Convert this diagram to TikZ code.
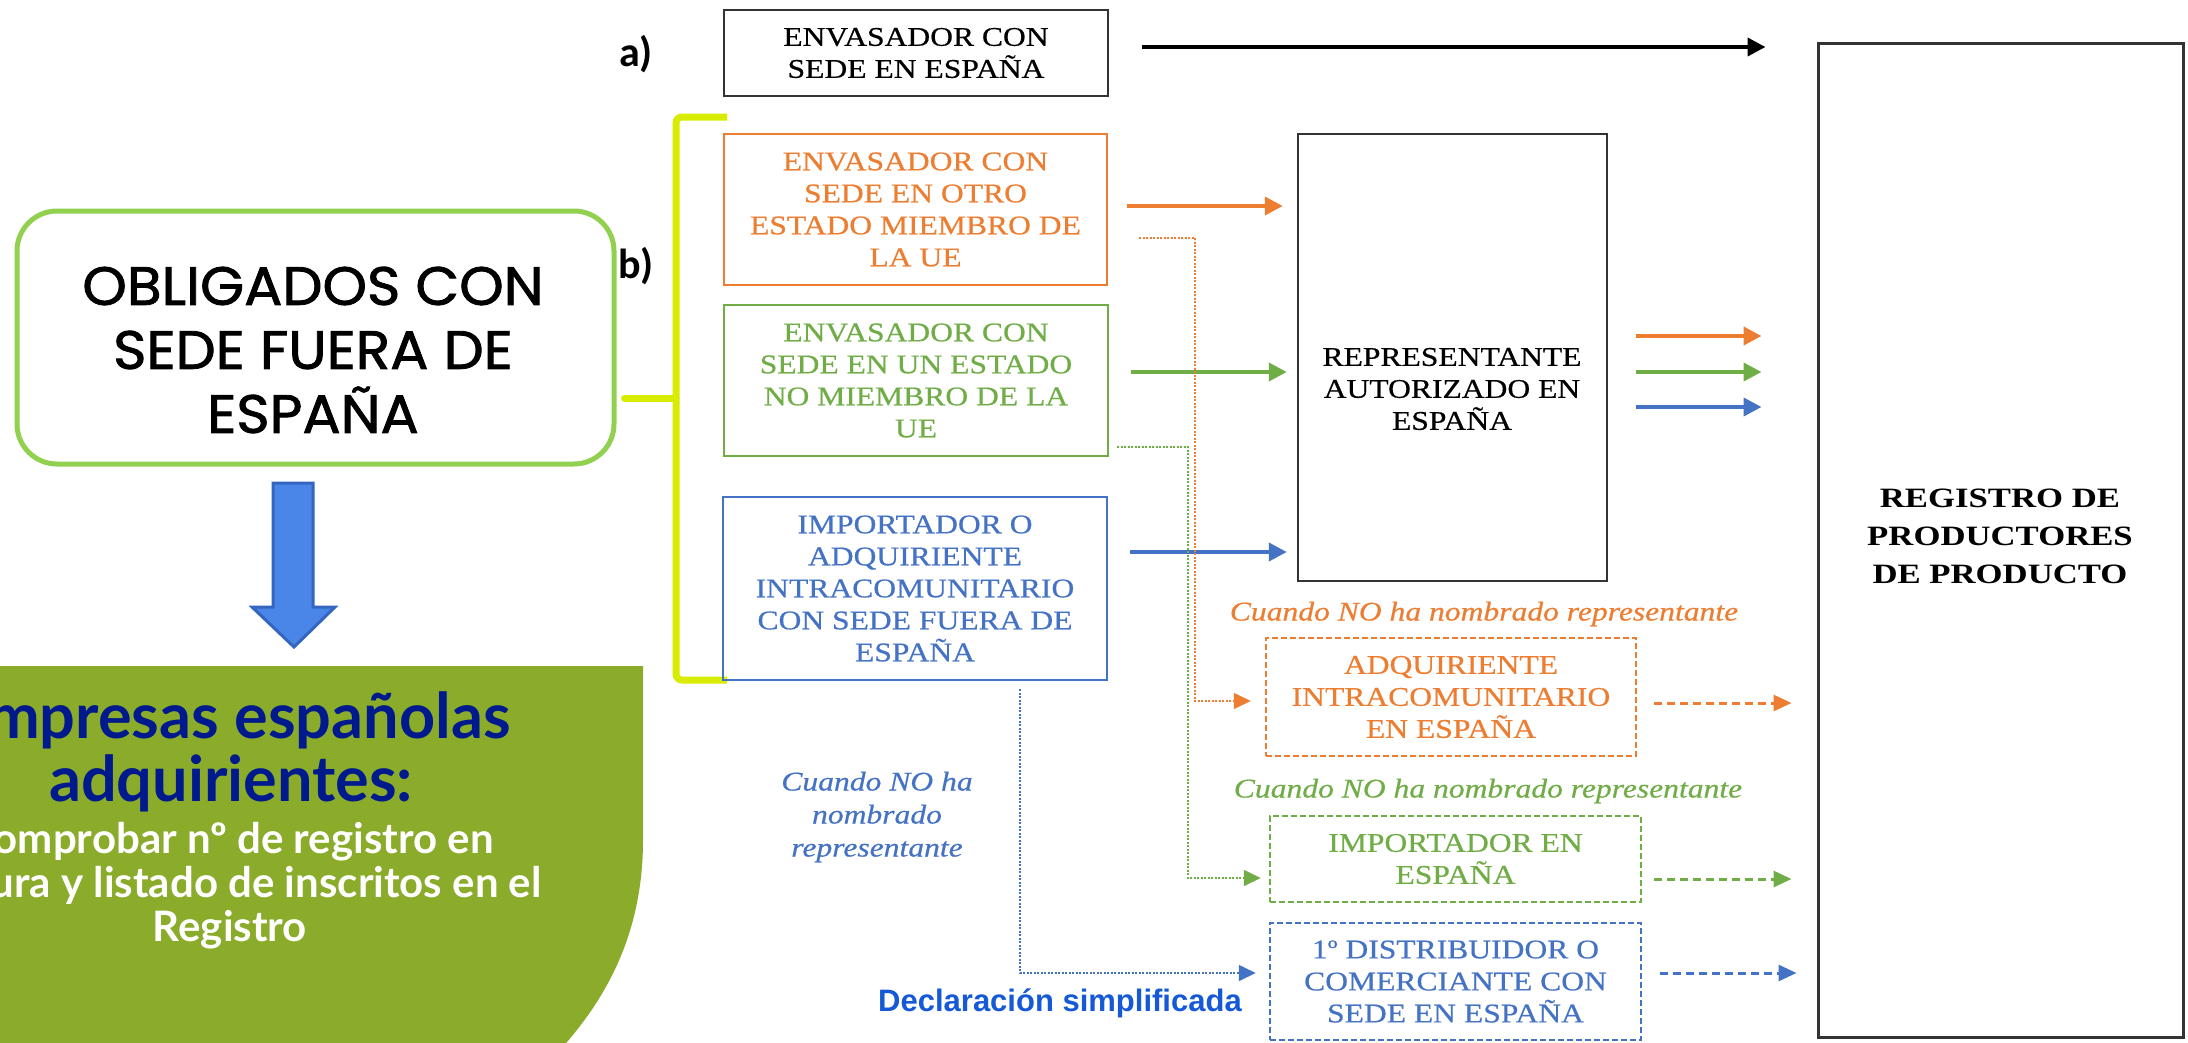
\documentclass[tikz,border=0pt]{standalone}
\usepackage{fontspec}
\usetikzlibrary{arrows.meta}
\newfontfamily\tnr{Liberation Serif}[FakeStretch=1.17,FakeBold=0.5]
\newfontfamily\tnrw{Liberation Serif}[FakeStretch=1.24]
\newfontfamily\popf{Poppins}[FakeStretch=1.05,FakeBold=1.5]
\newfontfamily\latof{Lato}
\newfontfamily\carlf{Carlito}
\newfontfamily\arialf{Liberation Sans}
\definecolor{cor}{HTML}{ED7D31}
\definecolor{cgr}{HTML}{70AD47}
\definecolor{cbl}{HTML}{4472C4}
\definecolor{cyel}{HTML}{D8EC00}
\definecolor{clg}{HTML}{92D050}
\definecolor{cpanel}{HTML}{8BAB2A}
\definecolor{cdkb}{HTML}{001A8E}
\definecolor{cbigar}{HTML}{4A86E8}
\definecolor{cbigard}{HTML}{3566BF}
\definecolor{cdecl}{HTML}{1559D6}
\tikzset{
  box/.style={draw, line width=2pt, inner sep=0pt, align=center, font=\tnr\fontsize{27}{32}\selectfont},
  dbox/.style={box, line width=2.5pt, dash pattern=on 6pt off 3pt},
  txt/.style={inner sep=0pt, align=center, font=\tnr\fontsize{27}{32}\selectfont},
  sarr/.style={line width=4pt, -{Triangle[length=18pt,width=18pt]}},
  darr/.style={line width=3pt, dash pattern=on 8pt off 5pt, -{Triangle[length=18pt,width=16pt]}},
  dotarr/.style={line width=1.6pt, dash pattern=on 2pt off 1.5pt, -{Triangle[length=17pt,width=16pt]}},
  itl/.style={inner sep=0pt, align=center, font=\tnr\itshape\fontsize{27}{33}\selectfont},
  lab/.style={inner sep=0pt, font=\carlf\bfseries\fontsize{42}{46}\selectfont}
}
\begin{document}
\begin{tikzpicture}[x=1pt,y=-1pt]
\useasboundingbox (0,0) rectangle (2188,1042);
\fill[white] (0,0) rectangle (2188,1042);

% green panel
\begin{scope}
\clip (0,0) rectangle (2188,1042);
\fill[cpanel] (-20,666) -- (643,666) -- (643,840) .. controls (643,935) and (605,1000) .. (560,1050) -- (-20,1050) -- cycle;
\node[inner sep=0pt, align=center, text=cdkb, font=\latof\bfseries\fontsize{63}{63}\selectfont] (emp) at (231,752) {Empresas españolas\\adquirientes:};
\node[inner sep=0pt, align=center, text=white, font=\latof\bfseries\fontsize{42}{44}\selectfont] (comp) at (230,886) {Comprobar nº de registro en\\factura y listado de inscritos en el\\Registro};
\end{scope}

% rounded box
\node[draw=clg, line width=5pt, rounded corners=40pt, minimum width=597pt, minimum height=253pt] (obl) at (315.5,337.5) {};
\node[inner sep=0pt, align=center, font=\popf\fontsize{54}{64}\selectfont] (oblt) at (313,350) {OBLIGADOS CON\\SEDE FUERA DE\\ESPAÑA};

% big arrow
\draw[cbigard, fill=cbigar, line width=3pt] (273,483) -- (313,483) -- (313,607) -- (335,607) -- (294,647) -- (252,607) -- (273,607) -- cycle;

% bracket
\draw[cyel, line width=7pt, rounded corners=6pt] (727,117) -- (676,117) -- (676,680) -- (727,680);
\draw[cyel, line width=7pt, line cap=round] ([xshift=8pt,yshift=-60.5pt]obl.east) -- (676,398);

% labels
\node[lab] (la) at (636,54) {a)};
\node[lab] (lb) at (636,266) {b)};

% boxes
\node[box, draw=black!80, line width=2.5pt, minimum width=384pt, minimum height=86pt] (bA) at (916,53) {ENVASADOR CON\\SEDE EN ESPAÑA};
\node[box, draw=cor, text=cor, minimum width=383pt, minimum height=151pt] (oB) at (915.5,209.5) {ENVASADOR CON\\SEDE EN OTRO\\ESTADO MIEMBRO DE\\LA UE};
\node[box, draw=cgr, text=cgr, minimum width=384pt, minimum height=151pt] (gB) at (916,380.5) {ENVASADOR CON\\SEDE EN UN ESTADO\\NO MIEMBRO DE LA\\UE};
\node[box, draw=cbl, text=cbl, minimum width=384pt, minimum height=183pt] (bB) at (915,588.5) {IMPORTADOR O\\ADQUIRIENTE\\INTRACOMUNITARIO\\CON SEDE FUERA DE\\ESPAÑA};
\node[box, draw=black!80, line width=2.5pt, minimum width=309pt, minimum height=447pt] (rep) at (1452.5,357.5) {};
\node[txt] (rept) at (1452,389) {REPRESENTANTE\\AUTORIZADO EN\\ESPAÑA};
\node[box, draw=black!80, line width=3pt, minimum width=365pt, minimum height=994pt] (reg) at (2000.5,540) {};
\node[inner sep=0pt, align=center, font=\tnrw\bfseries\fontsize{28}{38}\selectfont] (regt) at (2000,536) {REGISTRO DE\\PRODUCTORES\\DE PRODUCTO};

\node[dbox, draw=cor, text=cor, minimum width=370pt, minimum height=118pt] (oD) at (1451,697) {ADQUIRIENTE\\INTRACOMUNITARIO\\EN ESPAÑA};
\node[dbox, draw=cgr, text=cgr, minimum width=371pt, minimum height=86pt] (gD) at (1455.5,859) {IMPORTADOR EN\\ESPAÑA};
\node[dbox, draw=cbl, text=cbl, minimum width=371pt, minimum height=117pt] (bD) at (1455.5,981.5) {1º DISTRIBUIDOR O\\COMERCIANTE CON\\SEDE EN ESPAÑA};

% italic labels
\node[itl, text=cor] (co) at (1484,614) {Cuando NO ha nombrado representante};
\node[itl, text=cgr] (cg) at (1488,791) {Cuando NO ha nombrado representante};
\node[itl, text=cbl] (cb) at (877,817) {Cuando NO ha\\nombrado\\representante};
\node[inner sep=0pt, text=cdecl, font=\arialf\bfseries\fontsize{31}{36}\selectfont] (decl) at (1060,1003) {Declaración simplificada};

% solid arrows
\draw[sarr, black] ([xshift=33pt,yshift=6pt]bA.east) -- ([xshift=-51pt,yshift=6pt]reg.west |- bA.east);
\draw[sarr, cor] ([xshift=19pt,yshift=3.5pt]oB.east) -- ([xshift=-14pt,yshift=3.5pt]rep.west |- oB.east);
\draw[sarr, cgr] ([xshift=22pt,yshift=8.5pt]gB.east) -- ([xshift=-10pt,yshift=8.5pt]rep.west |- gB.east);
\draw[sarr, cbl] ([xshift=22pt,yshift=36.5pt]bB.east) -- ([xshift=-10pt,yshift=36.5pt]rep.west |- bB.east);
\draw[sarr, cor] ([xshift=28pt,yshift=21.5pt]rep.east) -- ([xshift=-55pt,yshift=21.5pt]reg.west |- rep.east);
\draw[sarr, cgr] ([xshift=28pt,yshift=-14.5pt]rep.east) -- ([xshift=-55pt,yshift=-14.5pt]reg.west |- rep.east);
\draw[sarr, cbl] ([xshift=28pt,yshift=-49.5pt]rep.east) -- ([xshift=-55pt,yshift=-49.5pt]reg.west |- rep.east);

% dashed arrows
\draw[darr, cor] ([xshift=17pt,yshift=-6pt]oD.east) -- ([xshift=-25pt,yshift=-6pt]reg.west |- oD.east);
\draw[darr, cgr] ([xshift=12pt,yshift=-20pt]gD.east) -- ([xshift=-25pt,yshift=-20pt]reg.west |- gD.east);
\draw[darr, cbl] ([xshift=18pt,yshift=8.5pt]bD.east) -- ([xshift=-20pt,yshift=8.5pt]reg.west |- bD.east);

% dotted connectors
\draw[dotarr, cor] ([xshift=31pt,yshift=-28.5pt]oB.east) -| ([xshift=-70pt,yshift=-4pt]oD.west) -- ([xshift=-14pt,yshift=-4pt]oD.west);
\draw[dotarr, cgr] ([xshift=8pt,yshift=-66.5pt]gB.east) -| ([xshift=-81pt,yshift=-19pt]gD.west) -- ([xshift=-8pt,yshift=-19pt]gD.west);
\draw[dotarr, cbl] ([xshift=105pt,yshift=-8pt]bB.south) |- ([xshift=-13pt,yshift=8.5pt]bD.west);
\end{tikzpicture}
\end{document}
